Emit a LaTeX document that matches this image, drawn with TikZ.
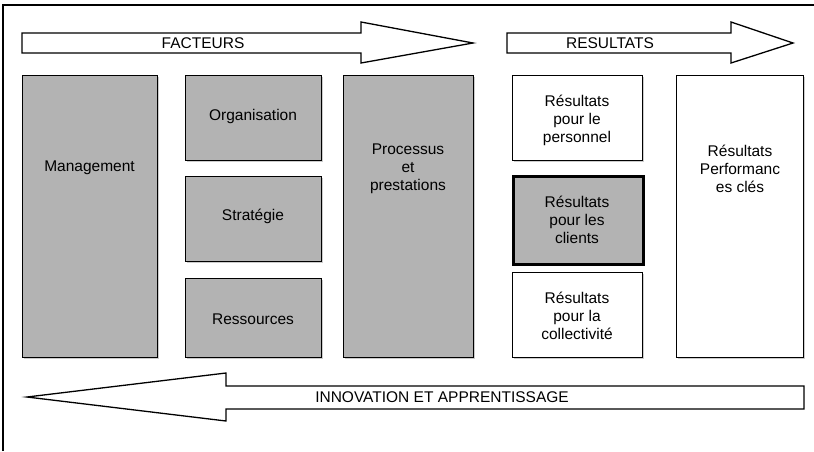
\documentclass[tikz,border=0pt]{standalone}
\usepackage{fontspec}
\setmainfont{Liberation Sans}
\usetikzlibrary{shadows}
\definecolor{boxgray}{HTML}{B3B3B3}
\begin{document}
\begin{tikzpicture}[x=1pt,y=-1pt,line width=1.3pt,
  box/.style={draw,anchor=north west,inner sep=0pt,drop shadow={shadow xshift=1pt,shadow yshift=-1pt,fill=black!40}},
  facteur/.style={box,fill=boxgray},
  resultat/.style={box,fill=white},
  label/.style={align=center,font=\fontsize{15.5}{18}\selectfont}]
  \useasboundingbox (0,0) rectangle (814,451);
  % cadre
  \draw (3,451) -- (3,5) -- (814,5);
  % fleches
  \draw[fill=white] (22,33) -- (361,33) -- (361,22) -- (473,43) -- (361,63) -- (361,53) -- (22,53) -- cycle;
  \draw[fill=white] (507,33) -- (731,33) -- (731,22) -- (793,43) -- (731,63) -- (731,53) -- (507,53) -- cycle;
  \draw[fill=white] (804,386) -- (226,386) -- (226,373) -- (27,397) -- (226,421) -- (226,409) -- (804,409) -- cycle;
  \node[label] (facteurs) at (203,43) {FACTEURS};
  \node[label] (resultats) at (610,43) {RESULTATS};
  \node[label] (innovation) at (442,397) {INNOVATION ET APPRENTISSAGE};
  % facteurs
  \node[facteur,minimum width=135,minimum height=282] (management) at (22,75) {};
  \node[facteur,minimum width=136,minimum height=85] (organisation) at (185,75) {};
  \node[facteur,minimum width=136,minimum height=85] (strategie) at (185,176) {};
  \node[facteur,minimum width=136,minimum height=79] (ressources) at (185,278) {};
  \node[facteur,minimum width=130,minimum height=282] (processus) at (343,75) {};
  \node[label] at (89.5,168) {Management};
  \node[label] at (253,116) {Organisation};
  \node[label] at (253,216) {Stratégie};
  \node[label] at (253,319) {Ressources};
  \node[label] at (408,169) {Processus\\et\\prestations};
  % resultats
  \node[resultat,minimum width=130,minimum height=85] (personnel) at (512,75) {};
  \node[facteur,line width=3pt,minimum width=130,minimum height=88] (clients) at (512,175) {};
  \node[resultat,minimum width=130,minimum height=85] (collectivite) at (512,272) {};
  \node[resultat,minimum width=127,minimum height=282] (performances) at (676,75) {};
  \node[label] at (577,120) {Résultats\\pour le\\personnel};
  \node[label] at (577,220) {Résultats\\pour les\\clients};
  \node[label] at (577,316) {Résultats\\pour la\\collectivité};
  \node[label] at (740,169) {Résultats\\Performanc\\es clés};
\end{tikzpicture}
\end{document}
